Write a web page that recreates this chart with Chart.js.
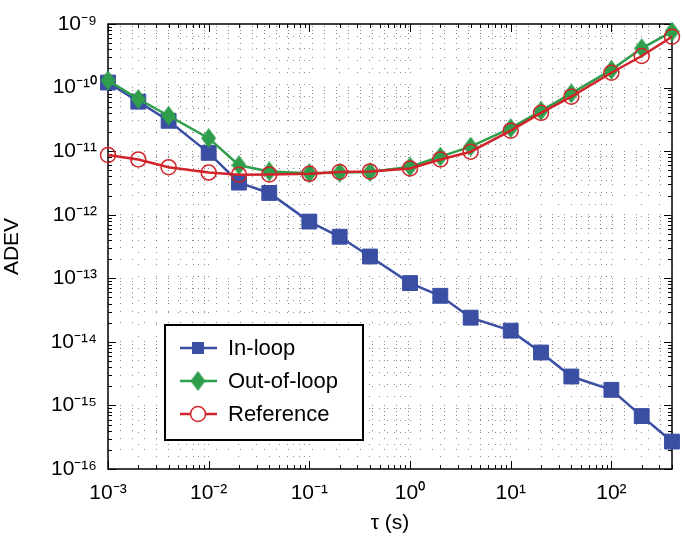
<!DOCTYPE html>
<html>
<head>
<meta charset="utf-8">
<script src="https://cdn.jsdelivr.net/npm/chart.js@4.4.1/dist/chart.umd.min.js"></script>
<style>
  html, body { margin: 0; padding: 0; background: #fff; }
  #wrap { width: 685px; height: 540px; }
</style>
</head>
<body>
<div id="wrap"><canvas id="adevChart" width="685" height="540"></canvas></div>
<script>
// averaging times (s)
const tau = [1e-3, 2e-3, 4e-3, 1e-2, 2e-2, 4e-2, 0.1, 0.2, 0.4, 1, 2, 4, 10, 20, 40, 100, 200, 400];
const inLoop = [1.2e-10, 6.0e-11, 3.0e-11, 9.4e-12, 3.2e-12, 2.2e-12, 7.8e-13, 4.5e-13, 2.2e-13, 8.4e-14,
  5.3e-14, 2.4e-14, 1.5e-14, 6.8e-15, 2.85e-15, 1.76e-15, 6.8e-16, 2.7e-16];
const outOfLoop = [1.3e-10, 6.6e-11, 3.6e-11, 1.6e-11, 6.0e-12, 4.8e-12, 4.5e-12, 4.6e-12, 4.7e-12, 5.7e-12,
  8.2e-12, 1.18e-11, 2.3e-11, 4.3e-11, 8.1e-11, 1.9e-10, 4.15e-10, 7.6e-10];
const reference = [8.7e-12, 7.4e-12, 5.6e-12, 4.6e-12, 4.26e-12, 4.3e-12, 4.4e-12, 4.7e-12, 4.8e-12, 5.35e-12,
  7.4e-12, 9.8e-12, 2.1e-11, 4.0e-11, 7.2e-11, 1.71e-10, 3.14e-10, 6.3e-10];
const seriesNames = ['In-loop', 'Out-of-loop', 'Reference'];
const xDecades = [-3, -2, -1, 0, 1, 2];
const yDecades = [-16, -15, -14, -13, -12, -11, -10, -9];

const BLUE = '#3a4ea3';
const GREEN = '#2f9e4c';
const RED = '#d1232a';
const FONT = '"Liberation Sans", Arial, sans-serif';
const GRID = 'rgba(40,40,40,0.55)';

const SUP = { '-': '\u207B', '0': '\u2070', '1': '\u00B9', '2': '\u00B2', '3': '\u00B3', '4': '\u2074',
  '5': '\u2075', '6': '\u2076', '7': '\u2077', '8': '\u2078', '9': '\u2079' };
function powLabel(v) {
  const e = Math.log10(v);
  if (Math.abs(e - Math.round(e)) > 1e-6) return '';
  return '10' + String(Math.round(e)).split('').map(c => SUP[c]).join('');
}
function isMajor(v) {
  const e = Math.log10(v);
  return Math.abs(e - Math.round(e)) < 1e-6;
}
// 1..9 x 10^n ticks for minor grid
function logTicks(decades, max) {
  const out = [];
  decades.forEach(n => {
    for (let k = 1; k <= 9; k++) {
      const v = Number(k + 'e' + n);
      if (v <= max * 1.0001) out.push({ value: v });
    }
  });
  return out;
}

function diamond(w, h, color) {
  const c = document.createElement('canvas');
  c.width = w; c.height = h;
  const g = c.getContext('2d');
  g.fillStyle = color;
  g.beginPath();
  g.moveTo(w / 2, 0); g.lineTo(w, h / 2); g.lineTo(w / 2, h); g.lineTo(0, h / 2);
  g.closePath(); g.fill();
  return c;
}
const diamondImg = diamond(15, 20, GREEN);

const pts = arr => tau.map((t, i) => ({ x: t, y: arr[i] }));

// box + inward ticks like matlab
const axesBox = {
  id: 'axesBox',
  beforeDatasetsDraw(chart) {
    const { ctx, chartArea: a, scales: { x, y } } = chart;
    ctx.save();
    ctx.strokeStyle = '#000';
    ctx.lineWidth = 1;
    ctx.beginPath();
    x.ticks.forEach(t => {
      const px = Math.round(x.getPixelForValue(t.value)) + 0.5;
      const len = isMajor(t.value) ? 8 : 4;
      ctx.moveTo(px, a.bottom); ctx.lineTo(px, a.bottom - len);
      ctx.moveTo(px, a.top); ctx.lineTo(px, a.top + len);
    });
    y.ticks.forEach(t => {
      const py = Math.round(y.getPixelForValue(t.value)) + 0.5;
      const len = isMajor(t.value) ? 8 : 4;
      ctx.moveTo(a.left, py); ctx.lineTo(a.left + len, py);
      ctx.moveTo(a.right, py); ctx.lineTo(a.right - len, py);
    });
    ctx.stroke();
    ctx.lineWidth = 1.5;
    ctx.strokeRect(a.left, a.top, a.right - a.left, a.bottom - a.top);
    ctx.restore();
  }
};

// boxed legend inside the axes
const boxLegend = {
  id: 'boxLegend',
  afterDraw(chart) {
    const { ctx } = chart;
    const x0 = 165, y0 = 325, w = 198, h = 115;
    ctx.save();
    ctx.fillStyle = '#fff';
    ctx.fillRect(x0, y0, w, h);
    ctx.strokeStyle = '#000';
    ctx.lineWidth = 2;
    ctx.strokeRect(x0, y0, w, h);
    const rows = [348, 381, 414];
    chart.data.datasets.forEach((ds, i) => {
      const yy = rows[i];
      ctx.strokeStyle = ds.borderColor;
      ctx.lineWidth = 2.5;
      ctx.beginPath(); ctx.moveTo(180, yy); ctx.lineTo(217, yy); ctx.stroke();
      if (i === 0) {
        ctx.fillStyle = ds.borderColor;
        ctx.fillRect(192, yy - 6, 12, 12);
      } else if (i === 1) {
        ctx.drawImage(diamondImg, 198 - 7.5, yy - 10);
      } else {
        ctx.fillStyle = '#fff';
        ctx.lineWidth = 1.5;
        ctx.beginPath(); ctx.arc(198, yy, 7.5, 0, Math.PI * 2); ctx.fill(); ctx.stroke();
      }
      ctx.fillStyle = '#000';
      ctx.font = '22px ' + FONT;
      ctx.textBaseline = 'middle';
      ctx.fillText(ds.label, 228, yy + 1);
    });
    ctx.restore();
  }
};

const ctx = document.getElementById('adevChart').getContext('2d');
new Chart(ctx, {
  type: 'line',
  data: {
    datasets: [
      {
        label: seriesNames[0], data: pts(inLoop), order: 3,
        borderColor: BLUE, backgroundColor: BLUE, borderWidth: 2.5,
        pointStyle: 'rect', pointRadius: 10.5, pointBorderWidth: 1, clip: false
      },
      {
        label: seriesNames[1], data: pts(outOfLoop), order: 2,
        borderColor: GREEN, backgroundColor: GREEN, borderWidth: 2.5,
        pointStyle: diamondImg, clip: false
      },
      {
        label: seriesNames[2], data: pts(reference), order: 1,
        borderColor: RED, backgroundColor: 'rgba(0,0,0,0)', borderWidth: 2.5,
        pointStyle: 'circle', pointRadius: 7.5, pointBorderWidth: 1.5, clip: false
      }
    ]
  },
  options: {
    responsive: false,
    animation: false,
    events: [],
    layout: { padding: { left: 0, top: 24, right: 13, bottom: 4 } },
    plugins: {
      legend: { display: false },
      tooltip: { enabled: false }
    },
    scales: {
      x: {
        type: 'logarithmic',
        min: 1e-3,
        max: 400,
        afterBuildTicks: s => { s.ticks = logTicks(xDecades, 400); },
        afterFit: s => { s.height = 67; },
        grid: { color: GRID, lineWidth: 1, drawTicks: false },
        border: { display: false, dash: [1, 11] },
        ticks: {
          autoSkip: false, maxRotation: 0, padding: 12,
          color: '#000', font: { family: FONT, size: 21 },
          callback: v => powLabel(v)
        },
        title: { display: true, text: '\u03C4 (s)', color: '#000', font: { family: FONT, size: 21 }, padding: 0 }
      },
      y: {
        type: 'logarithmic',
        min: 1e-16,
        max: 1e-9,
        afterBuildTicks: s => { s.ticks = logTicks(yDecades, 1e-9); },
        afterFit: s => { s.width = 108; },
        grid: { color: GRID, lineWidth: 1, drawTicks: false },
        border: { display: false, dash: [1, 11] },
        ticks: {
          autoSkip: false, padding: 11,
          color: '#000', font: { family: FONT, size: 21 },
          callback: v => powLabel(v)
        },
        title: { display: true, text: 'ADEV', color: '#000', font: { family: FONT, size: 21 }, padding: 0 }
      }
    }
  },
  plugins: [axesBox, boxLegend]
});
</script>
</body>
</html>
